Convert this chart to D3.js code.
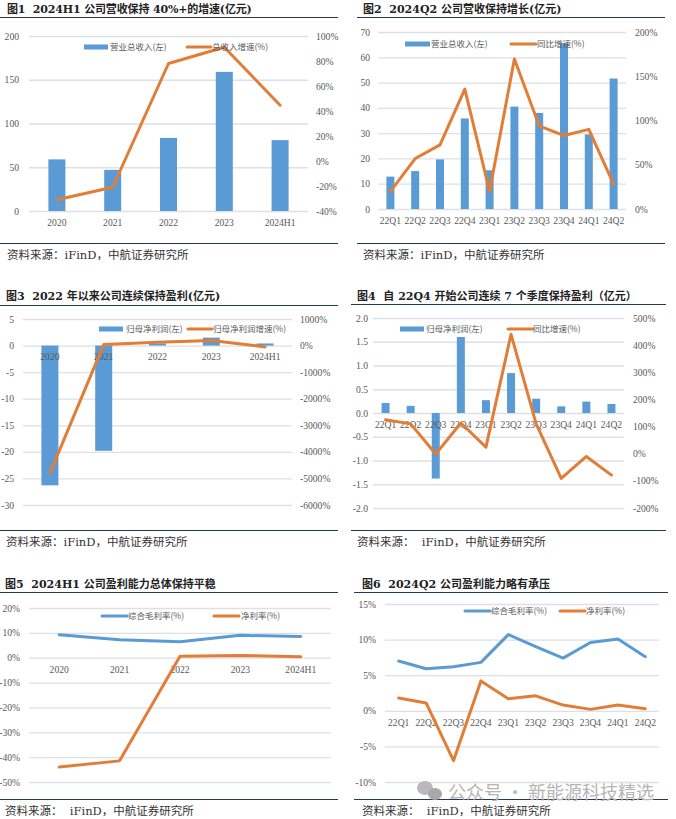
<!DOCTYPE html>
<html><head><meta charset="utf-8">
<script src="https://d3js.org/d3.v7.min.js"></script>
<style>
html,body{margin:0;padding:0;background:#fff}
svg{display:block}
text{font-family:"Liberation Serif","Noto Sans CJK SC",serif}
.ax text{font-size:9.6px;fill:#595959;font-family:"Liberation Serif",serif}
.lg{font-size:8.5px;fill:#595959;font-family:"Noto Sans CJK SC","Liberation Serif",sans-serif}
.tt{font-size:11px;font-weight:700;fill:#222;font-family:"DejaVu Serif","Noto Sans CJK SC",serif}
.src{font-size:11.5px;fill:#333;font-family:"DejaVu Serif","Noto Sans CJK SC",serif}
</style></head><body>
<svg id="c" width="676" height="819"></svg>
<script>
const annual=["2020","2021","2022","2023","2024H1"];
const quarters=["22Q1","22Q2","22Q3","22Q4","23Q1","23Q2","23Q3","23Q4","24Q1","24Q2"];

const revA=[59,47,83.5,159,81];
const revAGrowth=[-31,-21,78,91,44.6];
const revQ=[12.8,15,19.6,35.8,15.3,40.5,38,65.5,29.5,51.6];
const revQGrowth=[20,57,72.5,135.5,20,169.5,94,83,90,28];
const profA=[-26.3,-19.8,0.4,1.5,0.4];
const profAGrowth=[-4800,36,125,188,-50];
const profQ=[0.21,0.15,-1.38,1.6,0.27,0.84,0.3,0.14,0.24,0.19];
const profQGrowth=[125,110,-1,113,24,440,110,-91,-10,-79];
const grossA=[9.2,7.2,6.4,9,8.5];
const netA=[-44,-41.5,0.6,0.9,0.4];
const grossQ=[7,5.9,6.2,6.8,10.7,9,7.4,9.6,10.1,7.6];
const netQ=[1.8,1.1,-7,4.2,1.7,2.1,0.8,0.2,0.8,0.3];

const ticks0to200=[0,50,100,150,200];
const ticksPct1=[-40,-20,0,20,40,60,80,100];
const ticks0to70=[0,10,20,30,40,50,60,70];
const ticksPct2=[0,50,100,150,200];
const ticksNeg30=[-30,-25,-20,-15,-10,-5,0,5];
const ticksPct3=[-6000,-5000,-4000,-3000,-2000,-1000,0,1000];
const ticksProfit=[-2,-1.5,-1,-0.5,0,0.5,1,1.5,2];
const ticksPct4=[-200,-100,0,100,200,300,400,500];
const ticksMargin1=[-50,-40,-30,-20,-10,0,10,20];
const ticksMargin2=[-10,-5,0,5,10,15];

const BLUE="#5B9BD5",ORANGE="#E27D37",GRID="#DDE0E4",RULE="#1F3A5A";
const svg=d3.select("#c");

const panels=[
{title:"图1  2024H1 公司营收保持 40%+的增速(亿元)",ls:-0.15,src:"资料来源：iFinD，中航证券研究所",
 tx:7,ty:13,rx:[0,338],ry:[17,243],sx:7,sy:259,
 g:[29,308],y:[36,211],cats:annual,bars:revA,line:revAGrowth,ld:[0,200],lt:ticks0to200,rd:[-40,100],rt:ticksPct1,
 lx:19,rxl:316,barW:17,f:d=>d,
 leg:[{t:"bar",x:84,w:24,y:47,tx:110,s:"营业总收入(左)"},{t:"line",x:187,w:24,y:47,tx:212,s:"总收入增速(%)"}]},
{title:"图2  2024Q2 公司营收保持增长(亿元)",src:"资料来源：iFinD，中航证券研究所",
 tx:363,ty:13,rx:[357,665],ry:[17,243],sx:363,sy:259,
 g:[378,626],y:[32,209],cats:quarters,bars:revQ,line:revQGrowth,ld:[0,70],lt:ticks0to70,rd:[0,200],rt:ticksPct2,
 lx:370,rxl:635,barW:8,f:d=>d,
 leg:[{t:"bar",x:405,w:25,y:44,tx:431,s:"营业总收入(左)"},{t:"line",x:511,w:25,y:44,tx:537,s:"同比增速(%)"}]},
{title:"图3  2022 年以来公司连续保持盈利(亿元)",src:"资料来源：iFinD，中航证券研究所",
 tx:6,ty:300,rx:[0,338],ry:[305,530],sx:6,sy:546,
 g:[23,292],y:[319,505],cats:annual,bars:profA,line:profAGrowth,ld:[-30,5],lt:ticksNeg30,rd:[-6000,1000],rt:ticksPct3,
 lx:14,rxl:300,barW:17,f:d=>d,
 leg:[{t:"bar",x:99,w:24,y:329,tx:126,s:"归母净利润(左)"},{t:"line",x:188,w:24,y:329,tx:213,s:"归母净利润增速(%)"}]},
{title:"图4  自 22Q4 开始公司连续 7 个季度保持盈利（亿元）",src:"资料来源：  iFinD，中航证券研究所",
 tx:357,ty:300,rx:[351,666],ry:[304,530],sx:357,sy:546,
 g:[373,624],y:[318,508],cats:quarters,bars:profQ,line:profQGrowth,ld:[-2,2],lt:ticksProfit,rd:[-200,500],rt:ticksPct4,
 lx:368,rxl:633,barW:8,f:d=>d.toFixed(1),
 leg:[{t:"bar",x:400,w:24,y:329,tx:426,s:"归母净利润(左)"},{t:"line",x:508,w:25,y:329,tx:533,s:"同比增速(%)"}]},
{title:"图5  2024H1 公司盈利能力总体保持平稳",src:"资料来源：  iFinD，中航证券研究所",
 tx:5,ty:588,rx:[0,338],ry:[592,799],sx:5,sy:815,
 g:[29,331],y:[608,782],cats:annual,series:[grossA,netA],ld:[-50,20],lt:ticksMargin1,
 lx:20,f:d=>d+"%",
 leg:[{t:"line",c:BLUE,x:102,w:25,y:616,tx:128,s:"综合毛利率(%)"},{t:"line",x:214,w:25,y:616,tx:241,s:"净利率(%)"}]},
{title:"图6  2024Q2 公司盈利能力略有承压",src:"资料来源：  iFinD，中航证券研究所",
 tx:362,ty:588,rx:[354,668],ry:[592,799],sx:362,sy:815,
 g:[385,659],y:[604,782],cats:quarters,series:[grossQ,netQ],ld:[-10,15],lt:ticksMargin2,
 lx:376,f:d=>d+"%",
 leg:[{t:"line",c:BLUE,x:465,w:25,y:611,tx:491,s:"综合毛利率(%)"},{t:"line",x:560,w:25,y:611,tx:586,s:"净利率(%)"}]}
];

panels.forEach(p=>{
  const root=svg.append("g");
  root.append("text").attr("class","tt").attr("x",p.tx).attr("y",p.ty).style("white-space","pre").style("letter-spacing",(p.ls||0)+"px").text(p.title);
  p.ry.forEach(y=>root.append("line").attr("x1",p.rx[0]).attr("x2",p.rx[1]).attr("y1",y).attr("y2",y).attr("stroke",RULE).attr("stroke-width",1).attr("shape-rendering","crispEdges"));
  root.append("text").attr("class","src").attr("x",p.sx).attr("y",p.sy).style("white-space","pre").text(p.src);

  const x=d3.scaleBand().domain(p.cats).range(p.g);
  const yL=d3.scaleLinear().domain(p.ld).range([p.y[1],p.y[0]]);
  const w=p.g[1]-p.g[0];

  const la=root.append("g").attr("class","ax").attr("transform",`translate(${p.g[0]},0)`)
    .call(d3.axisLeft(yL).tickValues(p.lt).tickSize(-w).tickPadding(p.g[0]-p.lx).tickFormat(p.f));
  la.select(".domain").remove();
  la.selectAll(".tick line").attr("stroke",GRID).attr("stroke-width",1.3);

  if(p.bars){
    root.append("g").selectAll("rect").data(p.bars).join("rect")
      .attr("x",(d,i)=>x(p.cats[i])+x.bandwidth()/2-p.barW/2)
      .attr("width",p.barW)
      .attr("y",d=>Math.min(yL(d),yL(0)))
      .attr("height",d=>Math.abs(yL(d)-yL(0)))
      .attr("fill",BLUE);
  }

  const ba=root.append("g").attr("class","ax").attr("transform",`translate(0,${yL(0)})`)
    .call(d3.axisBottom(x).tickSize(0).tickPadding(8));
  ba.select(".domain").remove();

  const drawLine=(vals,yS,c)=>{
    root.append("path").datum(vals)
      .attr("fill","none").attr("stroke",c).attr("stroke-width",3).attr("stroke-linejoin","round").attr("stroke-linecap","round")
      .attr("d",d3.line().x((d,i)=>x(p.cats[i])+x.bandwidth()/2).y(d=>yS(d)));
  };
  if(p.line){
    const yR=d3.scaleLinear().domain(p.rd).range([p.y[1],p.y[0]]);
    const ra=root.append("g").attr("class","ax").attr("transform",`translate(${p.g[1]},0)`)
      .call(d3.axisRight(yR).tickValues(p.rt).tickSize(0).tickPadding(p.rxl-p.g[1]).tickFormat(d=>d+"%"));
    ra.select(".domain").remove();
    drawLine(p.line,yR,ORANGE);
  }
  if(p.series){
    drawLine(p.series[0],yL,BLUE);
    drawLine(p.series[1],yL,ORANGE);
  }

  p.leg.forEach(l=>{
    if(l.t==="bar") root.append("rect").attr("x",l.x).attr("y",l.y-2.5).attr("width",l.w).attr("height",5).attr("fill",BLUE);
    else root.append("line").attr("x1",l.x).attr("x2",l.x+l.w).attr("y1",l.y).attr("y2",l.y).attr("stroke",l.c||ORANGE).attr("stroke-width",3).attr("stroke-linecap","round");
    root.append("text").attr("class","lg").attr("x",l.tx).attr("y",l.y+3).text(l.s);
  });
});

const wm=svg.append("g");
wm.append("ellipse").attr("cx",425).attr("cy",788).attr("rx",8).attr("ry",7).attr("fill","#b9b9b9");
wm.append("ellipse").attr("cx",435).attr("cy",794).attr("rx",7).attr("ry",6).attr("fill","#a9a9a9");
wm.append("text").attr("x",448).attr("y",799).attr("fill","#b5b5b5").style("font-family",'"Noto Sans CJK SC",sans-serif').style("font-size","18px").text("公众号 · 新能源科技精选");
</script>
</body></html>
